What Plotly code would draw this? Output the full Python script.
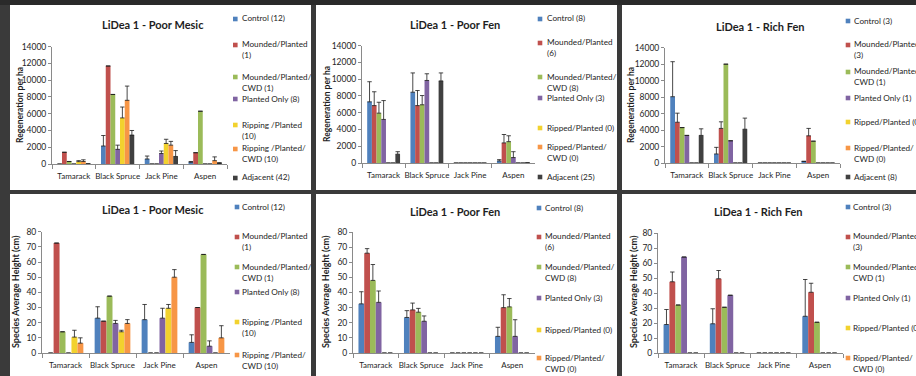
import plotly.graph_objects as go

W, H = 916, 376

categories = ["Tamarack", "Black Spruce", "Jack Pine", "Aspen"]
series_colors = ["#4F81BD", "#C0504D", "#9BBB59", "#8064A2", "#F2D22E", "#F79646", "#404040"]

# ---- legend labels ----
names_poor_mesic = ["Control (12)", "Mounded/Planted<br>(1)", "Mounded/Planted/<br>CWD (1)",
                    "Planted Only (8)", "Ripping /Planted<br>(10)", "Ripping /Planted/<br>CWD (10)",
                    "Adjacent (42)"]
names_poor_fen = ["Control (8)", "Mounded/Planted<br>(6)", "Mounded/Planted/<br>CWD (8)",
                  "Planted Only (3)", "Ripped/Planted (0)", "Ripped/Planted/<br>CWD (0)",
                  "Adjacent (25)"]
names_rich_fen = ["Control (3)", "Mounded/Planted<br>(3)", "Mounded/Planted/<br>CWD (1)",
                  "Planted Only (1)", "Ripped/Planted (0)", "Ripped/Planted/<br>CWD (0)",
                  "Adjacent (8)"]

# ---- regeneration per ha (top row) ----
regen_poor_mesic = [
    [0, 2150, 600, 200],
    [1400, 11700, 0, 1350],
    [300, 8300, 0, 6300],
    [0, 1750, 1250, 0],
    [280, 5500, 2450, 0],
    [300, 7600, 2250, 400],
    [30, 3450, 900, 100],
]
regen_poor_mesic_err = [
    [0, 1250, 350, 100],
    [0, 0, 0, 0],
    [0, 0, 0, 0],
    [0, 500, 300, 0],
    [120, 1300, 500, 0],
    [200, 1700, 450, 450],
    [0, 550, 700, 50],
]
regen_poor_fen = [
    [7300, 8450, 0, 250],
    [6850, 6850, 0, 2400],
    [5950, 6950, 0, 2550],
    [5200, 9850, 0, 650],
    [0, 0, 0, 0],
    [0, 0, 0, 0],
    [1050, 9800, 0, 30],
]
regen_poor_fen_err = [
    [2400, 2300, 0, 150],
    [1650, 1800, 0, 1000],
    [1300, 1100, 0, 700],
    [2250, 800, 0, 700],
    [0, 0, 0, 0],
    [0, 0, 0, 0],
    [300, 950, 0, 0],
]
regen_rich_fen = [
    [8050, 1100, 0, 200],
    [4950, 4200, 0, 3300],
    [4300, 12000, 0, 2650],
    [3350, 2700, 0, 0],
    [0, 0, 0, 0],
    [0, 0, 0, 0],
    [3350, 4100, 0, 0],
]
regen_rich_fen_err = [
    [4250, 800, 0, 0],
    [1100, 800, 0, 900],
    [0, 0, 0, 0],
    [0, 0, 0, 0],
    [0, 0, 0, 0],
    [0, 0, 0, 0],
    [800, 1350, 0, 0],
]

# ---- species average height (cm) (bottom row) ----
height_poor_mesic = [
    [0, 23, 22, 7],
    [72.5, 21, 0, 30],
    [14, 37.5, 0, 65],
    [0, 19.5, 23, 4.5],
    [10.5, 14, 29.5, 0],
    [6.5, 19.5, 50, 10],
]
height_poor_mesic_err = [
    [0, 7.5, 10, 5],
    [0, 0, 0, 0],
    [0, 0, 0, 0],
    [0, 2, 6.5, 3.5],
    [4.5, 1, 2.5, 0],
    [3.5, 2.5, 5, 8],
]
height_poor_fen = [
    [32.5, 23.5, 0, 11],
    [66, 28.5, 0, 30],
    [48, 27, 0, 30.5],
    [33.5, 21, 0, 11],
    [0, 0, 0, 0],
    [0, 0, 0, 0],
]
height_poor_fen_err = [
    [8, 4.5, 0, 6],
    [3, 4.5, 0, 8.5],
    [10.5, 2.5, 0, 5.5],
    [7.5, 3.5, 0, 11],
    [0, 0, 0, 0],
    [0, 0, 0, 0],
]
height_rich_fen = [
    [19, 19.5, 0, 24.5],
    [47.5, 49.5, 0, 40.5],
    [32, 30.5, 0, 20.5],
    [64, 38.5, 0, 0],
    [0, 0, 0, 0],
    [0, 0, 0, 0],
]
height_rich_fen_err = [
    [10, 10, 0, 24.5],
    [6.5, 5.5, 0, 6],
    [0, 0, 0, 0],
    [0, 0, 0, 0],
    [0, 0, 0, 0],
    [0, 0, 0, 0],
]

titles = ["LiDea 1 - Poor Mesic", "LiDea 1 - Poor Fen", "LiDea 1 - Rich Fen"] * 2
ytitles = ["Regeneration per ha"] * 3 + ["Species Average Height (cm)"] * 3

FONT = "Lato"
TXT = "#1e1e1e"
AX = "#8a8a8a"


def fx(p):
    return p / W


def fy(p):
    return 1 - p / H


# layout geometry (pixels)
panels = [
    dict(box=(10, 5, 311, 190), plot=(52, 227, 46.7, 164), title=(153, 25), ytit=(20, 105),
         leg_mx=235.3, leg_tx=240.5, leg_y=[19, 45, 77, 99, 125, 149, 178],
         vals=regen_poor_mesic, errs=regen_poor_mesic_err, names=names_poor_mesic,
         ymax=14000, dtick=2000, ysz=8.5),
    dict(box=(316, 5, 617, 190), plot=(362, 535, 45.7, 163), title=(455, 25), ytit=(327, 104),
         leg_mx=540, leg_tx=545.5, leg_y=[19, 43, 77, 98, 128, 147, 177],
         vals=regen_poor_fen, errs=regen_poor_fen_err, names=names_poor_fen,
         ymax=14000, dtick=2000, ysz=8.5),
    dict(box=(622, 5, 916, 190), plot=(665, 840, 47.7, 163), title=(760, 27), ytit=(631, 105),
         leg_mx=848, leg_tx=852.5, leg_y=[21, 45, 72, 98, 122, 148, 177],
         vals=regen_rich_fen, errs=regen_rich_fen_err, names=names_rich_fen,
         ymax=14000, dtick=2000, ysz=8.5),
    dict(box=(10, 194, 311, 376), plot=(42, 230, 231.7, 353), title=(153, 210), ytit=(15, 292),
         leg_mx=237, leg_tx=241, leg_y=[207, 237, 267, 292, 322, 355],
         vals=height_poor_mesic, errs=height_poor_mesic_err, names=names_poor_mesic[:6],
         ymax=80, dtick=10, ysz=9),
    dict(box=(316, 194, 617, 376), plot=(353, 535, 232, 353), title=(455, 211), ytit=(325, 292),
         leg_mx=539, leg_tx=544, leg_y=[208, 237, 267, 298, 330, 358],
         vals=height_poor_fen, errs=height_poor_fen_err, names=names_poor_fen[:6],
         ymax=80, dtick=10, ysz=9),
    dict(box=(622, 194, 916, 376), plot=(658, 843, 233, 353), title=(758, 211), ytit=(633, 292),
         leg_mx=848, leg_tx=852, leg_y=[207, 237, 267, 298, 328, 358],
         vals=height_rich_fen, errs=height_rich_fen_err, names=names_rich_fen[:6],
         ymax=80, dtick=10, ysz=9),
]

fig = go.Figure()
shapes = []
annotations = []
layout_axes = {}

# dark top strip
shapes.append(dict(type="rect", xref="paper", yref="paper", x0=0, x1=1, y0=fy(5), y1=1,
                   fillcolor="#2a2a2a", line=dict(width=0), layer="below"))

for i, p in enumerate(panels):
    k = i + 1
    sfx = "" if k == 1 else str(k)
    bx0, by0, bx1, by1 = p["box"]
    shapes.append(dict(type="rect", xref="paper", yref="paper",
                       x0=fx(bx0), x1=fx(bx1), y0=fy(by1), y1=fy(by0),
                       fillcolor="white", line=dict(width=0), layer="below"))
    for j, (vals, errs) in enumerate(zip(p["vals"], p["errs"])):
        fig.add_trace(go.Bar(
            x=categories, y=vals, name=p["names"][j].replace("<br>", " "),
            marker=dict(color=series_colors[j], line=dict(width=0)),
            error_y=dict(type="data", symmetric=False, array=errs, arrayminus=[0] * len(errs),
                         color="#1a1a1a", thickness=0.8, width=2.2),
            xaxis=f"x{sfx}", yaxis=f"y{sfx}", showlegend=False,
            offsetgroup=str(j),
        ))
    x0, x1, ytop, ybot = p["plot"]
    layout_axes[f"xaxis{sfx}"] = dict(
        domain=[fx(x0), fx(x1)], anchor=f"y{sfx}", type="category",
        categoryorder="array", categoryarray=categories, automargin=False, tickangle=0,
        showline=True, linecolor=AX, linewidth=1, ticks="outside", tickson="boundaries",
        ticklen=4, tickcolor=AX, ticklabelstandoff=4,
        tickfont=dict(family=FONT, size=8, color=TXT),
        showgrid=False, zeroline=False, fixedrange=True)
    layout_axes[f"yaxis{sfx}"] = dict(
        domain=[fy(ybot), fy(ytop)], anchor=f"x{sfx}", range=[0, p["ymax"]], dtick=p["dtick"],
        tickformat="d", automargin=False,
        showline=True, linecolor=AX, linewidth=1, ticks="outside", ticklen=3, tickcolor=AX,
        tickfont=dict(family=FONT, size=8.5, color=TXT), showgrid=False, zeroline=False,
        fixedrange=True)
    # chart title
    annotations.append(dict(text=f"<b>{titles[i]}</b>", xref="paper", yref="paper",
                            x=fx(p["title"][0]), y=fy(p["title"][1]), xanchor="center",
                            yanchor="middle", showarrow=False,
                            font=dict(family=FONT, size=11, color=TXT)))
    # y axis title
    annotations.append(dict(text=f"<b>{ytitles[i]}</b>", xref="paper", yref="paper",
                            x=fx(p["ytit"][0]), y=fy(p["ytit"][1]), xanchor="center",
                            yanchor="middle", showarrow=False, textangle=-90,
                            font=dict(family=FONT, size=p["ysz"], color=TXT)))
    # legend (Excel style, right of plot)
    for j, yc in enumerate(p["leg_y"]):
        s = 4.6
        shapes.append(dict(type="rect", xref="paper", yref="paper",
                           x0=fx(p["leg_mx"] - s / 2), x1=fx(p["leg_mx"] + s / 2),
                           y0=fy(yc + s / 2), y1=fy(yc - s / 2),
                           fillcolor=series_colors[j], line=dict(width=0)))
        annotations.append(dict(text=p["names"][j], xref="paper", yref="paper",
                                x=fx(p["leg_tx"]), y=fy(yc - 6.5), xanchor="left",
                                yanchor="top", align="left", showarrow=False, borderpad=0,
                                font=dict(family=FONT, size=8.2, color=TXT)))

fig.update_layout(
    width=W, height=H, margin=dict(l=0, r=0, t=0, b=0, autoexpand=False),
    paper_bgcolor="#3a3a3a", plot_bgcolor="rgba(0,0,0,0)",
    barmode="group", bargap=0.24, bargroupgap=0,
    showlegend=False, shapes=shapes, annotations=annotations,
    font=dict(family=FONT, color=TXT),
    **layout_axes,
)

fig.write_html(
    "out.html",
    config={"displayModeBar": False},
    post_script="document.body.style.margin='0';document.body.style.overflow='hidden';",
)
